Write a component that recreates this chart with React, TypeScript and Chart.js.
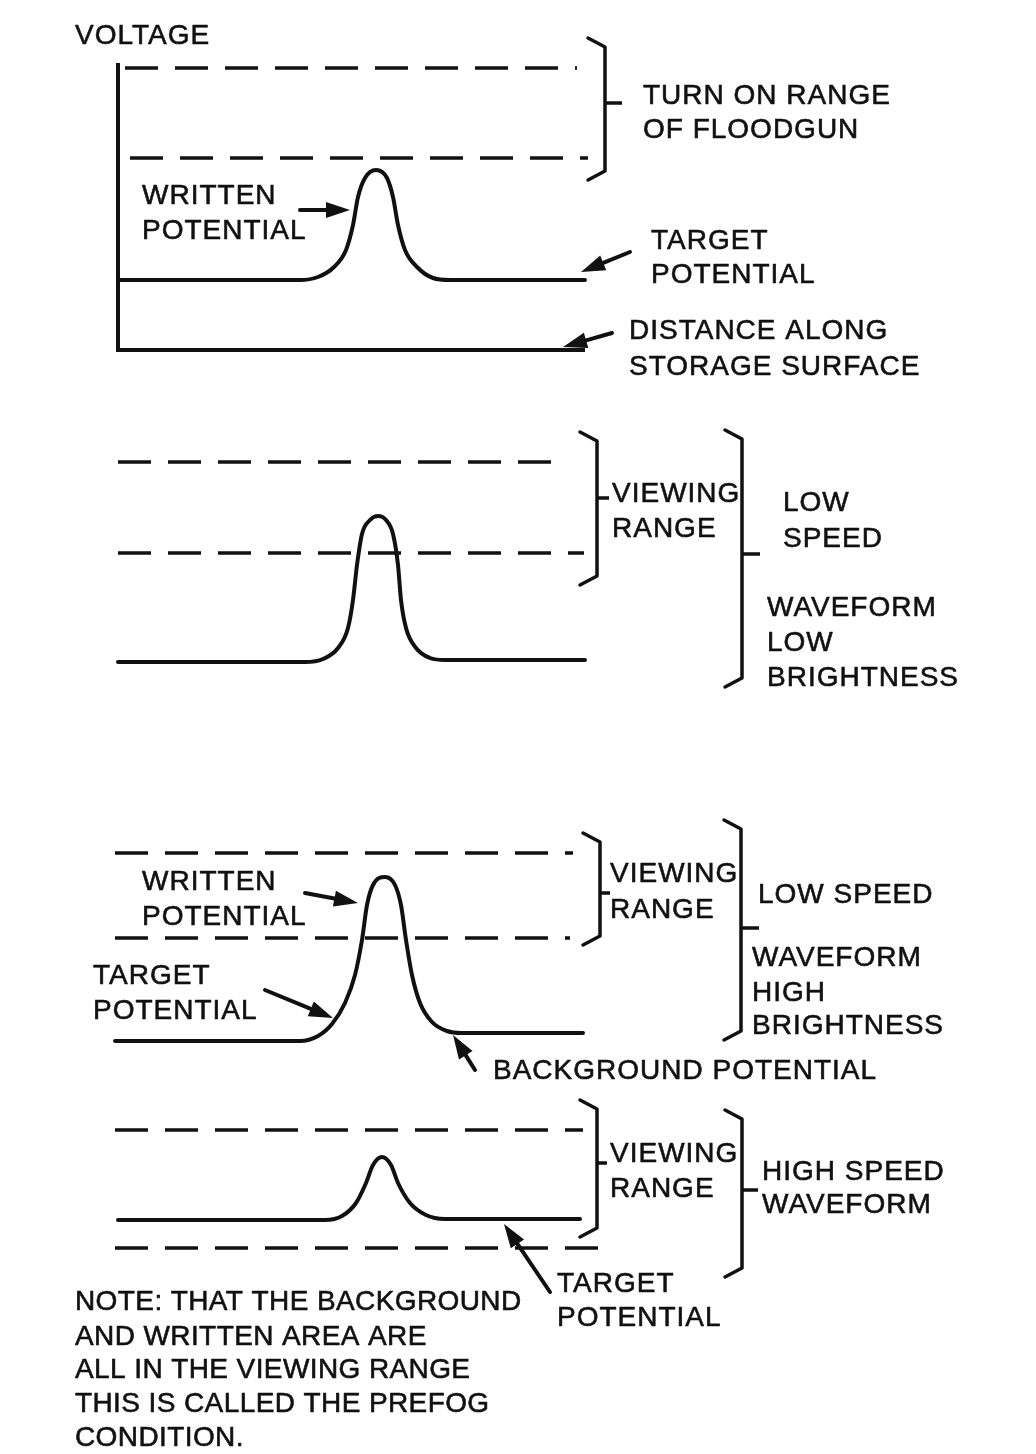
import React, { useEffect, useRef } from "react";
import { Chart, registerables } from "chart.js";

Chart.register(...registerables);

// ---- Data (diagram units: horizontal = distance, vertical = page height, downward) ----
const panel1Curve = [[120, 280], [300, 280], [318, 277], [334, 267], [346, 250], [353, 225], [358, 197], [365, 178], [376, 170], [387, 178], [393, 197], [398, 225], [405, 250], [417, 267], [433, 278], [450, 280], [585, 280]];
const panel2Curve = [[118, 662], [305, 662], [323, 659], [338, 648], [348, 628], [353, 600], [357, 565], [362, 534], [370, 520], [378, 516], [386, 520], [393, 534], [398, 565], [401, 600], [406, 628], [416, 648], [430, 658], [445, 660], [585, 660]];
const panel3Curve = [[115, 1041], [300, 1041], [318, 1036], [332, 1024], [345, 1003], [355, 975], [362, 940], [367, 905], [373, 885], [385, 877], [395, 885], [401, 905], [406, 940], [412, 975], [420, 1003], [432, 1022], [447, 1031], [462, 1033], [583, 1033]];
const panel4Curve = [[118, 1220], [325, 1220], [342, 1216], [356, 1203], [366, 1183], [373, 1165], [382, 1157], [391, 1165], [398, 1183], [410, 1203], [426, 1215], [445, 1219], [580, 1219]];

const axisLine = [[118, 63], [118, 350], [585, 350]];

// dashed level lines: [xStart, xEnd, level]
const dashedLevels = [
  [125, 577, 68], [130, 588, 158],
  [118, 567, 462], [118, 584, 553],
  [115, 573, 853], [115, 570, 938],
  [115, 583, 1130], [115, 615, 1248],
];

// brackets: [x, top, bottom, middle, tick length]
const brackets = [
  [605, 38, 180, 103, 17],
  [597, 432, 585, 498, 12],
  [742, 430, 687, 554, 18],
  [600, 833, 945, 893, 10],
  [741, 820, 1040, 928, 18],
  [597, 1100, 1237, 1163, 10],
  [742, 1110, 1277, 1190, 16],
];

// arrows: [fromX, fromY, toX, toY]
const arrows = [
  [300, 210, 350, 210],
  [630, 252, 581, 272],
  [612, 333, 563, 347],
  [305, 893, 358, 903],
  [265, 990, 333, 1018],
  [475, 1070, 453, 1035],
  [550, 1292, 504, 1224],
];

// labels: [text, x, y]
const labels: [string, number, number][] = [
  ["VOLTAGE", 75, 36],
  ["TURN ON RANGE", 643, 96],
  ["OF FLOODGUN", 643, 130],
  ["WRITTEN", 142, 196],
  ["POTENTIAL", 142, 231],
  ["TARGET", 651, 241],
  ["POTENTIAL", 651, 275],
  ["DISTANCE ALONG", 629, 331],
  ["STORAGE SURFACE", 629, 367],
  ["VIEWING", 612, 494],
  ["RANGE", 612, 529],
  ["LOW", 783, 503],
  ["SPEED", 783, 539],
  ["WAVEFORM", 767, 608],
  ["LOW", 767, 643],
  ["BRIGHTNESS", 767, 678],
  ["WRITTEN", 142, 882],
  ["POTENTIAL", 142, 917],
  ["VIEWING", 610, 874],
  ["RANGE", 610, 910],
  ["LOW SPEED", 758, 895],
  ["WAVEFORM", 752, 958],
  ["HIGH", 752, 993],
  ["BRIGHTNESS", 752, 1026],
  ["TARGET", 93, 976],
  ["POTENTIAL", 93, 1011],
  ["BACKGROUND POTENTIAL", 493, 1071],
  ["VIEWING", 610, 1154],
  ["RANGE", 610, 1189],
  ["HIGH SPEED", 762, 1172],
  ["WAVEFORM", 762, 1205],
  ["TARGET", 557, 1284],
  ["POTENTIAL", 557, 1318],
];

// note block: [text, x, y]
const noteLines: [string, number, number][] = [
  ["NOTE: THAT THE BACKGROUND", 75, 1302],
  ["AND WRITTEN AREA ARE", 75, 1337],
  ["ALL IN THE VIEWING RANGE", 75, 1370],
  ["THIS IS CALLED THE PREFOG", 75, 1404],
  ["CONDITION.", 75, 1438],
];

const INK = "#111111";
const W = 1036;
const H = 1454;

const toPts = (arr: number[][]) => arr.map(([x, y]) => ({ x, y }));

const annotationPlugin = {
  id: "diagramAnnotations",
  afterDatasetsDraw(chart: any) {
    const ctx = chart.ctx as any;
    const xs = chart.scales.x;
    const ys = chart.scales.y;
    ctx.save();
    // arrows
    ctx.strokeStyle = INK;
    ctx.fillStyle = INK;
    ctx.lineWidth = 4;
    ctx.lineCap = "round";
    for (const [fx, fy, tx, ty] of arrows) {
      const x1 = xs.getPixelForValue(fx);
      const y1 = ys.getPixelForValue(fy);
      const x2 = xs.getPixelForValue(tx);
      const y2 = ys.getPixelForValue(ty);
      const ang = Math.atan2(y2 - y1, x2 - x1);
      const len = 24;
      const hw = 8;
      const bx = x2 - len * Math.cos(ang);
      const by = y2 - len * Math.sin(ang);
      ctx.beginPath();
      ctx.moveTo(x1, y1);
      ctx.lineTo(bx, by);
      ctx.stroke();
      ctx.beginPath();
      ctx.moveTo(x2, y2);
      ctx.lineTo(bx + hw * Math.sin(ang), by - hw * Math.cos(ang));
      ctx.lineTo(bx - hw * Math.sin(ang), by + hw * Math.cos(ang));
      ctx.closePath();
      ctx.fill();
    }
    // labels
    ctx.font = '28px "Liberation Sans", Arial, sans-serif';
    ctx.textBaseline = "middle";
    ctx.textAlign = "left";
    ctx.lineWidth = 0.6;
    ctx.lineJoin = "round";
    const drawSet = (set: [string, number, number][], spacing: string) => {
      ctx.letterSpacing = spacing;
      for (const [t, x, y] of set) {
        const px = xs.getPixelForValue(x);
        const py = ys.getPixelForValue(y);
        ctx.fillText(t, px, py);
        ctx.strokeText(t, px, py);
      }
    };
    drawSet(labels, "1px");
    drawSet(noteLines, "0.4px");
    ctx.restore();
  },
};

function buildDatasets() {
  const solid = (arr: number[][], smooth: boolean) => ({
    data: toPts(arr),
    showLine: true,
    borderColor: INK,
    borderWidth: 4,
    pointRadius: 0,
    fill: false,
    cubicInterpolationMode: smooth ? "monotone" : "default",
    tension: smooth ? 0.4 : 0,
    borderCapStyle: "round",
    borderJoinStyle: "round",
  });
  const ds: any[] = [];
  for (const c of [panel1Curve, panel2Curve, panel3Curve, panel4Curve]) ds.push(solid(c, true));
  ds.push({ ...solid(axisLine, false), borderCapStyle: "butt", borderJoinStyle: "miter" });
  for (const [x0, x1, y] of dashedLevels) {
    ds.push({
      data: toPts([[x0, y], [x1, y]]),
      showLine: true,
      borderColor: INK,
      borderWidth: 3.5,
      borderDash: [33, 17],
      pointRadius: 0,
      fill: false,
    });
  }
  for (const [x, top, bottom, mid, tick] of brackets) {
    ds.push({
      data: toPts([[x - 17, top], [x, top + 9], [x, bottom - 9], [x - 17, bottom]]),
      showLine: true,
      borderColor: INK,
      borderWidth: 3.5,
      pointRadius: 0,
      fill: false,
      borderJoinStyle: "round",
      borderCapStyle: "round",
    });
    ds.push({
      data: toPts([[x, mid], [x + tick, mid]]),
      showLine: true,
      borderColor: INK,
      borderWidth: 3.5,
      pointRadius: 0,
      fill: false,
    });
  }
  return ds;
}

export default function App() {
  const ref = useRef<HTMLCanvasElement | null>(null);
  useEffect(() => {
    if (!ref.current) return;
    const chart = new Chart(ref.current, {
      type: "scatter",
      data: { datasets: buildDatasets() },
      options: {
        animation: false,
        responsive: false,
        devicePixelRatio: 1,
        layout: { padding: 0 },
        plugins: { legend: { display: false }, tooltip: { enabled: false } },
        events: [],
        scales: {
          x: { type: "linear", min: 0, max: W, display: false },
          y: { type: "linear", min: 0, max: H, reverse: true, display: false },
        },
      } as any,
      plugins: [annotationPlugin],
    });
    return () => chart.destroy();
  }, []);
  return (
    <div style={{ position: "absolute", left: 0, top: 0, width: W, height: H, background: "#fff" }}>
      <canvas ref={ref} width={W} height={H} style={{ display: "block" }} />
    </div>
  );
}
